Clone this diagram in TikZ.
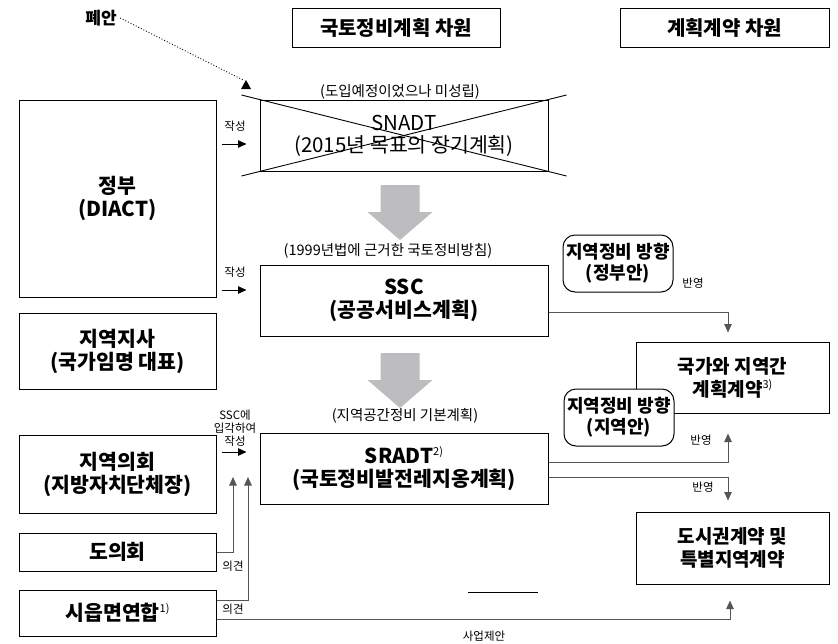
\documentclass[tikz,border=0pt]{standalone}
\usepackage{fontspec}
\setmainfont{Noto Sans CJK KR}
\usetikzlibrary{arrows.meta,calc}
\definecolor{linegray}{HTML}{555555}
\definecolor{blockgray}{HTML}{BDBDBF}
\newcommand{\fnmark}[1]{\raisebox{.75ex}{\fontsize{11}{12}\selectfont\mdseries #1}}

\begin{document}
\begin{tikzpicture}[x=1pt,y=-1pt,
    box/.style={draw,line width=1pt,align=center,inner sep=0pt,font=\fontsize{20.5}{23}\selectfont\bfseries},
    hbox/.style={box,minimum width=208pt,minimum height=39pt,font=\fontsize{20}{22}\selectfont\bfseries},
    plan/.style={box,minimum width=288pt,minimum height=71pt},
    actor/.style={box,minimum width=197pt},
    deal/.style={box,minimum width=193pt,font=\fontsize{19}{23}\selectfont\bfseries},
    dirbox/.style={box,rounded corners=12pt,fill=white,minimum width=110pt,minimum height=57pt,font=\fontsize{18}{21}\selectfont\bfseries},
    note/.style={font=\fontsize{14.5}{16}\selectfont},
    tiny/.style={font=\fontsize{11.5}{13}\selectfont,align=center,inner sep=0pt},
    arr/.style={-{Triangle[length=8.5pt,width=7.5pt]},line width=.8pt},
    conn/.style={arr,draw=linegray,color=linegray,line width=.9pt}]
    \useasboundingbox (0,0) rectangle (838,643);

    \node[hbox] (dimplan) at (396,27.5) {국토정비계획 차원};
    \node[hbox,minimum width=209pt] (dimdeal) at (724.5,27.5) {계획계약 차원};

    \node[plan,font=\fontsize{20.5}{22}\selectfont] (snadt) at (404,135.5) {SNADT\\(2015년 목표의 장기계획)};
    \node[plan] (ssc) at (404,300.5) {SSC\\(공공서비스계획)};
    \node[plan] (sradt) at (404,468.5) {SRADT\fnmark{2)}\\(국토정비발전레지옹계획)};
    \node[note] (snadtnote) at (400,92) {(도입예정이었으나 미성립)};
    \node[note] (sscnote) at (388,251) {(1999년법에 근거한 국토정비방침)};
    \node[note] (sradtnote) at (405,416) {(지역공간정비 기본계획)};

    \node[actor,minimum height=197pt] (gov) at (117.5,198.5) {정부\\(DIACT)};
    \node[actor,minimum height=76pt] (prefect) at (117.5,351) {지역지사\\(국가임명 대표)};
    \node[actor,minimum height=78pt] (council) at (117.5,474) {지역의회\\(지방자치단체장)};
    \node[actor,minimum height=38pt] (dept) at (117.5,552) {도의회};
    \node[actor,minimum height=46pt] (commune) at (117.5,613) {시읍면연합\fnmark{1)}};

    \node[deal,minimum height=71pt] (contract) at (732.5,377.5) {국가와 지역간\\계획계약\fnmark{3)}};
    \node[deal,minimum height=72pt] (urban) at (732.5,548) {도시권계약 및\\특별지역계약};
    \node[dirbox] (dirgov) at (618,263.5) {지역정비 방향\\(정부안)};
    \node[dirbox] (dirreg) at (619,417.5) {지역정비 방향\\(지역안)};

    \draw[line width=.9pt] ($(snadt.north west)!-.0625!(snadt.south east)$) -- ($(snadt.south east)!-.0625!(snadt.north west)$);
    \draw[line width=.9pt] ($(snadt.south west)!-.0625!(snadt.north east)$) -- ($(snadt.north east)!-.0625!(snadt.south west)$);

    \node[font=\fontsize{17}{19}\selectfont\bfseries] (scrap) at (101,18) {폐안};
    \coordinate (scraptip) at (243,80);
    \draw[dotted,line width=.9pt] (scrap.east) -- (scraptip);
    \fill (241,89) -- (251,89) -- (246,80) -- cycle;

    \foreach \t in {185,353}
      \fill[blockgray] (380.5,\t) -- (419.5,\t) -- (419.5,\t+27) -- (432.5,\t+27) -- (400,\t+55) -- (367.5,\t+27) -- (380.5,\t+27) -- cycle;

    \draw[arr] ([xshift=-38pt,yshift=-8.5pt]snadt.west) -- ([xshift=-13pt,yshift=-8.5pt]snadt.west);
    \draw[arr] ([xshift=-38pt,yshift=10.5pt]ssc.west) -- ([xshift=-13pt,yshift=10.5pt]ssc.west);
    \draw[arr] ([xshift=-38pt,yshift=16.5pt]sradt.west) -- ([xshift=-13pt,yshift=16.5pt]sradt.west);
    \node[tiny] (write1) at (235,126) {작성};
    \node[tiny] (write2) at (235,272) {작성};
    \node[tiny] (write3) at (235,428) {SSC에\\입각하여\\작성};

    \coordinate (deptin) at (233,477);
    \coordinate (communein) at (248,477);
    \draw[conn] (dept.east) -| (deptin);
    \draw[conn] ([yshift=13pt]commune.east) -| (communein);
    \node[tiny] (opinion1) at (233,566) {의견};
    \node[tiny] (opinion2) at (233,609) {의견};

    \draw[conn] ([yshift=-11.5pt]ssc.east) -| ([xshift=-4.5pt,yshift=9pt]contract.north);
    \draw[conn] ([yshift=6.5pt]sradt.east) -| ([xshift=-4.5pt,yshift=-20pt]contract.south);
    \draw[conn] ([yshift=-8.5pt]sradt.east) -| ([xshift=-4.5pt,yshift=11pt]urban.north);
    \draw[conn] ([yshift=-6pt]commune.east) -| ([xshift=-2.5pt,yshift=-16pt]urban.south);
    \node[tiny] (reflect1) at (693,283) {반영};
    \node[tiny] (reflect2) at (701,440) {반영};
    \node[tiny] (reflect3) at (703,487) {반영};
    \node[tiny] (proposal) at (484,636) {사업제안};

    \draw[line width=.8pt] (468,592) -- (538,592);
  \end{tikzpicture}
\end{document}
